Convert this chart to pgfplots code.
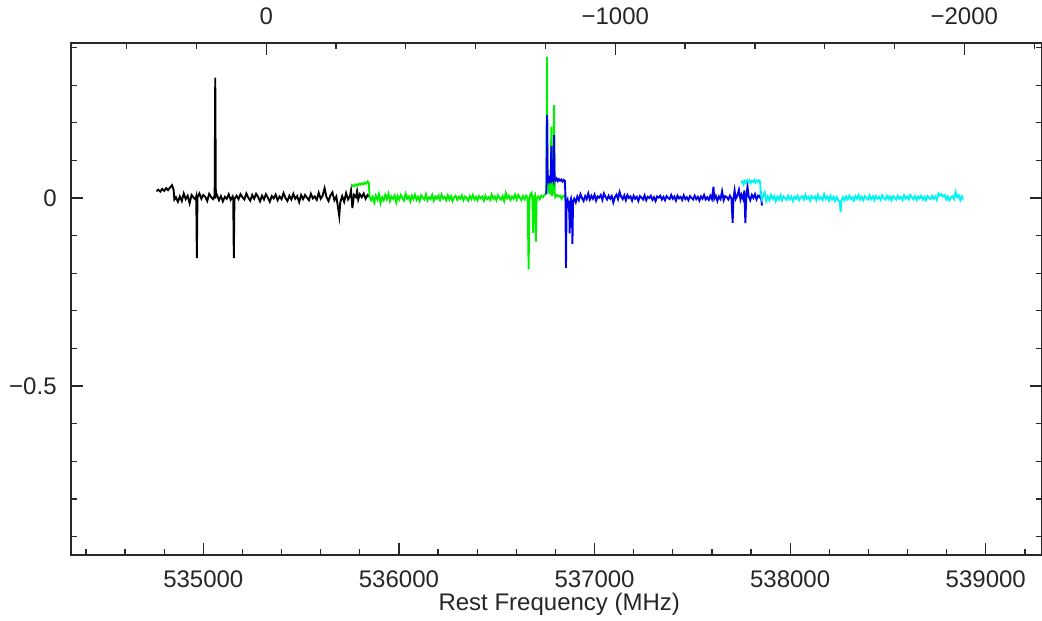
\documentclass[border=0pt]{standalone}
\usepackage{fontspec}
\setmainfont{Liberation Sans}
\usepackage{pgfplots}
\pgfplotsset{compat=1.18}
\definecolor{specgreen}{RGB}{0,240,0}
\definecolor{specblue}{RGB}{0,0,235}
\definecolor{speccyan}{RGB}{0,245,245}
\definecolor{frame}{RGB}{40,40,40}
\begin{document}
\begin{tikzpicture}
\pgfplotsset{
  specbase/.style={
    at={(0,0)}, anchor=south west,
    scale only axis, width=485.25pt, height=256pt,
    ymin=-0.949, ymax=0.412,
    axis line style={frame, line width=0.6pt},
    every tick/.style={frame, line width=0.6pt},
    major tick length=6pt, minor tick length=3pt,
    tick align=inside,
    tick label style={font=\fontsize{12}{14}\selectfont, text=black!85},
  }
}
\begin{axis}[specbase, name=ax,
  xmin=534323.6, xmax=539285,
  xtick={535000,536000,537000,538000,539000},
  xticklabels={535000,536000,537000,538000,539000},
  minor xtick={534400,534600,534800,535200,535400,535600,535800,536200,536400,536600,536800,537200,537400,537600,537800,538200,538400,538600,538800,539200},
  xtick pos=bottom,
  xticklabel style={anchor=base, inner sep=0pt, yshift=-16pt},
  ytick={-0.5,0},
  yticklabels={−0.5,0},
  minor ytick={-0.9,-0.8,-0.7,-0.6,-0.4,-0.3,-0.2,-0.1,0.1,0.2,0.3,0.4},
  ytick pos=both, yticklabel pos=left,
  yticklabel style={anchor=east, inner sep=0pt, xshift=-7pt},
  xlabel={Rest Frequency (MHz)},
  every axis x label/.style={at={(axis description cs:0.5,0)}, anchor=base, yshift=-27.75pt, xshift=1.5pt, font=\fontsize{12}{14}\selectfont, text=black!85},
]
% black segment
\addplot[black, line width=0.95pt] coordinates {
(534760,0.018) (534770,0.022) (534780,0.017) (534790,0.024) (534800,0.019) (534810,0.026) (534820,0.021) (534830,0.028) (534840,0.034) (534848,0.022)
(534852,-0.004) (534860,0.002) (534870,-0.010) (534880,0.004) (534890,-0.008) (534900,0.012) (534910,-0.003) (534920,0.006) (534930,-0.014) (534940,0.008)
(534950,0.001) (534960,-0.004) (534964,0.004) (534967,-0.160) (534970,0.002) (534980,0.012) (534990,-0.002) (535000,0.008) (535010,0.003) (535020,-0.008)
(535030,0.011) (535040,0.002) (535050,-0.003) (535058,0.006) (535061,0.320) (535064,0.004) (535070,0.008) (535080,-0.006) (535090,0.005) (535100,-0.009)
(535110,0.003) (535120,-0.002) (535130,0.010) (535140,-0.005) (535150,0.004) (535153,-0.004) (535156,-0.160) (535159,-0.003) (535170,0.006) (535180,-0.003)
(535190,0.010) (535200,0.002) (535210,-0.004) (535220,0.012) (535230,0.001) (535240,-0.007) (535250,0.008) (535260,-0.002) (535270,0.011) (535280,0.003)
(535290,-0.009) (535300,0.006) (535310,-0.004) (535320,0.010) (535330,0.001) (535340,-0.010) (535350,0.005) (535360,-0.001) (535370,0.009) (535380,-0.006)
(535390,0.004) (535400,-0.003) (535410,0.013) (535420,0.000) (535430,-0.008) (535440,0.006) (535450,-0.004) (535460,0.011) (535470,-0.002) (535480,0.005)
(535490,-0.011) (535500,0.008) (535510,-0.003) (535520,0.008) (535530,0.001) (535540,-0.006) (535550,0.011) (535560,-0.001) (535570,0.004) (535580,-0.005)
(535590,0.014) (535600,-0.002) (535610,0.006) (535620,0.026) (535630,0.002) (535640,-0.008) (535650,0.007) (535660,0.015) (535670,-0.006) (535680,0.004)
(535690,-0.030) (535695,-0.048) (535700,-0.012) (535710,0.005) (535720,-0.010) (535730,0.013) (535740,-0.004) (535750,0.006) (535755,0.020) (535762,-0.027)
(535770,0.008) (535780,0.002) (535786,0.018) (535792,-0.004) (535800,0.010) (535810,0.002) (535820,0.012) (535830,-0.002) (535840,0.008) (535850,0.003)
};
% green segment
\addplot[specgreen, line width=0.95pt] coordinates {
(535757,0.030) (535765,0.034) (535772,0.031) (535780,0.036) (535787,0.033) (535795,0.038) (535802,0.035) (535810,0.039) (535817,0.036) (535825,0.041)
(535832,0.038) (535840,0.044) (535846,0.040) (535850,0.004) (535858,-0.006) (535866,0.003) (535874,-0.012) (535882,0.006) (535890,-0.004) (535898,0.010)
(535906,-0.014) (535914,0.002) (535922,-0.006) (535930,0.008) (535938,-0.003) (535946,0.011) (535954,-0.008) (535962,0.004) (535970,-0.002) (535978,0.007)
(535986,-0.012) (535994,0.005) (536002,-0.004) (536010,0.008) (536018,0.000) (536026,-0.007) (536034,0.011) (536042,-0.002) (536050,0.004) (536058,-0.009)
(536066,0.006) (536074,-0.003) (536082,0.009) (536090,-0.005) (536098,0.003) (536106,-0.008) (536114,0.007) (536122,0.001) (536130,-0.004) (536138,0.010)
(536146,-0.006) (536154,0.002) (536162,-0.003) (536170,0.008) (536178,-0.007) (536186,0.004) (536194,-0.002) (536202,0.006) (536210,-0.005) (536218,0.009)
(536226,-0.001) (536234,0.003) (536242,-0.006) (536250,0.007) (536258,-0.004) (536266,0.005) (536274,-0.008) (536282,0.002) (536290,0.006) (536298,-0.005)
(536306,0.003) (536314,-0.002) (536322,0.007) (536330,-0.006) (536338,0.004) (536346,0.000) (536354,-0.007) (536362,0.005) (536370,-0.003) (536378,0.008)
(536386,-0.004) (536394,0.003) (536402,-0.006) (536410,0.005) (536418,-0.001) (536426,0.004) (536434,-0.007) (536442,0.006) (536450,-0.003) (536458,0.002)
(536466,-0.005) (536474,0.009) (536482,-0.002) (536490,0.004) (536498,-0.006) (536506,0.007) (536514,0.000) (536522,-0.004) (536530,0.005) (536538,-0.008)
(536546,0.013) (536554,-0.001) (536562,0.006) (536570,-0.005) (536578,0.004) (536586,-0.002) (536594,0.009) (536602,-0.004) (536610,0.008) (536618,0.001)
(536626,-0.006) (536634,0.005) (536642,-0.003) (536650,0.006) (536658,0.000) (536663,-0.190) (536667,-0.004) (536672,0.010) (536678,0.014) (536683,-0.006)
(536686,-0.093) (536690,0.002) (536696,0.008) (536700,-0.116) (536704,0.000) (536712,0.004) (536720,-0.003) (536728,0.006) (536736,0.002) (536744,0.008)
(536750,0.010) (536754,0.020) (536757,0.376) (536760,0.030) (536764,0.050) (536768,0.012) (536772,0.030) (536776,0.010) (536779,0.190) (536782,0.005)
(536786,0.040) (536790,0.010) (536793,0.247) (536796,0.015) (536800,0.002) (536808,0.008) (536816,0.004) (536824,0.006) (536832,-0.002) (536840,0.006)
(536848,0.004) (536856,0.003)
};
% blue segment
\addplot[specblue, line width=0.95pt] coordinates {
(536754,0.010) (536757,0.220) (536760,0.060) (536764,0.046) (536768,0.052) (536772,0.044) (536776,0.050) (536779,0.138) (536782,0.048) (536786,0.052)
(536790,0.045) (536793,0.167) (536796,0.050) (536800,0.047) (536806,0.052) (536812,0.045) (536818,0.050) (536824,0.046) (536830,0.049) (536836,0.044)
(536842,0.048) (536848,0.046) (536851,0.010) (536854,-0.186) (536857,-0.010) (536862,-0.004) (536866,-0.020) (536870,-0.008) (536873,-0.094) (536876,-0.010)
(536880,-0.002) (536884,-0.015) (536887,-0.122) (536890,-0.010) (536896,-0.002) (536904,-0.012) (536912,0.004) (536920,-0.006) (536928,0.010) (536936,0.000)
(536944,-0.008) (536952,0.005) (536960,-0.003) (536968,0.012) (536976,-0.004) (536984,0.006) (536992,-0.002) (537000,0.009) (537008,-0.007) (537016,0.004)
(537024,0.001) (537032,0.008) (537040,-0.005) (537048,0.012) (537056,0.003) (537064,-0.004) (537072,0.006) (537080,-0.002) (537088,0.005) (537096,-0.012)
(537104,0.002) (537112,0.009) (537120,-0.003) (537128,0.016) (537136,0.004) (537144,-0.003) (537152,0.007) (537160,-0.006) (537168,0.008) (537176,0.000)
(537184,0.004) (537192,-0.007) (537200,0.006) (537208,-0.002) (537216,0.003) (537224,-0.008) (537232,0.005) (537240,0.001) (537248,-0.004) (537256,0.007)
(537264,-0.006) (537272,0.003) (537280,0.000) (537288,0.006) (537296,-0.005) (537304,0.002) (537312,-0.008) (537320,0.004) (537328,0.001) (537336,0.006)
(537344,-0.004) (537352,0.003) (537360,-0.006) (537368,0.005) (537376,0.000) (537384,-0.003) (537392,0.008) (537400,-0.002) (537408,0.004) (537416,-0.007)
(537424,0.006) (537432,-0.001) (537440,0.003) (537448,-0.005) (537456,0.007) (537464,-0.003) (537472,0.002) (537480,-0.006) (537488,0.005) (537496,0.000)
(537504,-0.004) (537512,0.006) (537520,-0.003) (537528,0.003) (537536,-0.007) (537544,0.004) (537552,-0.002) (537560,0.008) (537568,-0.004) (537576,0.002)
(537584,-0.005) (537592,0.006) (537600,-0.003) (537608,0.030) (537612,-0.002) (537620,0.006) (537628,-0.008) (537636,0.004) (537644,-0.003) (537652,0.018)
(537660,-0.006) (537668,0.005) (537676,0.002) (537684,-0.004) (537692,0.006) (537700,-0.002) (537706,-0.066) (537710,-0.004) (537716,0.020) (537722,-0.002)
(537730,0.006) (537738,0.022) (537746,-0.004) (537752,0.008) (537760,-0.003) (537766,0.020) (537771,-0.067) (537775,-0.002) (537782,0.030) (537788,0.004)
(537796,-0.006) (537804,0.008) (537812,0.000) (537820,0.010) (537828,-0.004) (537836,0.006) (537844,0.002) (537850,0.010) (537856,-0.020)
};
% cyan segment
\addplot[speccyan, line width=0.95pt] coordinates {
(537750,0.040) (537756,0.044) (537762,0.036) (537768,0.045) (537774,0.041) (537780,0.046) (537786,0.042) (537792,0.047) (537798,0.040) (537804,0.045)
(537810,0.043) (537816,0.048) (537822,0.041) (537828,0.046) (537834,0.043) (537840,0.047) (537846,0.044) (537850,0.010) (537856,-0.004) (537862,0.006)
(537870,0.015) (537878,-0.008) (537886,0.004) (537894,-0.006) (537902,0.008) (537910,-0.002) (537918,0.005) (537926,-0.009) (537934,0.003) (537942,-0.004)
(537950,0.007) (537958,-0.006) (537966,0.004) (537974,0.000) (537982,-0.005) (537990,0.006) (537998,-0.003) (538006,0.004) (538014,-0.008) (538022,0.003)
(538030,-0.002) (538038,0.006) (538046,-0.006) (538054,0.002) (538062,0.005) (538070,-0.004) (538078,0.008) (538086,-0.002) (538094,0.003) (538102,-0.007)
(538110,0.005) (538118,-0.001) (538126,0.004) (538134,-0.006) (538142,0.008) (538150,-0.003) (538158,0.002) (538166,-0.005) (538174,0.010) (538182,-0.002)
(538190,0.004) (538198,-0.007) (538206,0.006) (538214,-0.004) (538222,0.003) (538230,-0.008) (538238,0.002) (538246,-0.006) (538254,-0.012) (538258,-0.037)
(538262,-0.008) (538270,0.002) (538278,-0.006) (538286,0.004) (538294,-0.004) (538302,0.006) (538310,-0.003) (538318,0.002) (538326,-0.007) (538334,0.005)
(538342,-0.002) (538350,0.008) (538358,-0.004) (538366,0.003) (538374,-0.006) (538382,0.005) (538390,0.000) (538398,-0.004) (538406,0.007) (538414,-0.003)
(538422,0.004) (538430,-0.006) (538438,0.005) (538446,-0.002) (538454,0.003) (538462,-0.005) (538470,0.007) (538478,0.000) (538486,-0.004) (538494,0.006)
(538502,-0.003) (538510,0.004) (538518,-0.006) (538526,0.005) (538534,0.001) (538542,-0.004) (538550,0.006) (538558,-0.002) (538566,0.003) (538574,-0.005)
(538582,0.007) (538590,-0.002) (538598,0.004) (538606,-0.004) (538614,0.008) (538622,0.002) (538630,-0.003) (538638,0.005) (538646,-0.005) (538654,0.004)
(538662,-0.001) (538670,0.006) (538678,-0.004) (538686,0.003) (538694,-0.006) (538702,0.005) (538710,0.000) (538718,-0.003) (538726,0.006) (538734,-0.002)
(538742,0.004) (538750,-0.005) (538758,0.012) (538766,0.006) (538774,0.010) (538782,0.004) (538790,0.008) (538798,-0.004) (538806,0.004) (538814,-0.006)
(538822,0.002) (538830,0.005) (538838,-0.003) (538846,0.016) (538854,0.002) (538862,0.007) (538870,-0.006) (538878,0.004) (538884,-0.004)
};
\end{axis}
% top velocity axis
\begin{axis}[specbase,
  xmin=-2221.2, xmax=559.6, x dir=reverse,
  xtick={-2000,-1000,0},
  xticklabels={−2000,−1000,0},
  minor xtick={-2200,-1800,-1600,-1400,-1200,-800,-600,-400,-200,200,400},
  xtick pos=top, xticklabel pos=top,
  xticklabel style={anchor=base, inner sep=0pt, yshift=9pt},
  ytick=\empty,
]
\end{axis}
\pgfresetboundingbox
\path[use as bounding box] (-35.5pt,-32.5pt) rectangle (485.5pt,277.5pt);
\end{tikzpicture}
\end{document}
